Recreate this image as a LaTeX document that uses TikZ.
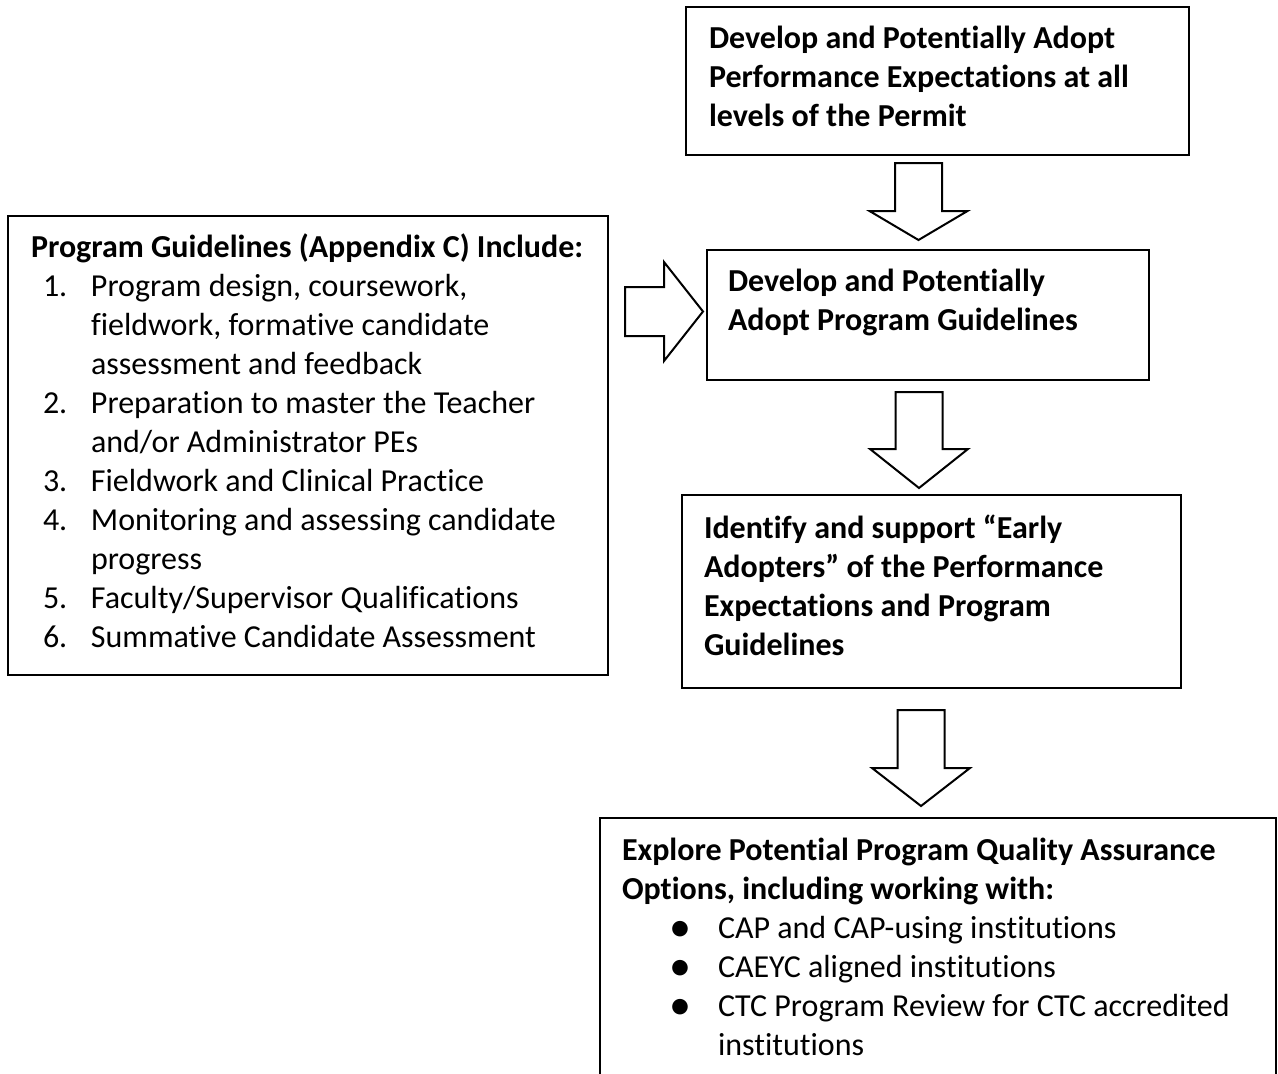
\documentclass[tikz,border=0pt]{standalone}
\usepackage{fontspec}
\setmainfont{Carlito}[Ligatures={NoCommon,NoContextual}, RawFeature={-liga;-clig;-dlig}]
\tikzset{
  boxnode/.style={draw=black, line width=2.6pt, anchor=north west, inner sep=0pt, outer sep=0pt},
  txt/.style={anchor=base west, inner sep=0pt, outer sep=0pt, text width=640pt, align=left,
              font=\fontsize{32}{39}\selectfont,
              execute at begin node={\spaceskip=0pt\relax\xspaceskip=0pt\relax}},
  blockarrow/.style={draw=black, line width=2pt, fill=white, line join=miter},
}
\newcommand{\bul}{\makebox[96pt][l]{\hspace*{47pt}\smash{\raisebox{-3pt}{\fontsize{44}{39}\selectfont •}}}}
\begin{document}
\begin{tikzpicture}[x=1pt,y=-1pt]
\useasboundingbox (0,0) rectangle (1278,1074);
\clip (0,0) rectangle (1278,1074);

% boxes
\node[boxnode, minimum width=503pt, minimum height=148pt] (b1) at (686,7) {};
\node[boxnode, minimum width=442pt, minimum height=130pt] (b2) at (707,250) {};
\node[boxnode, minimum width=499pt, minimum height=193pt] (b3) at (682,495) {};
\node[boxnode, minimum width=600pt, minimum height=459pt] (bl) at (8,216) {};
\node[boxnode, minimum width=676pt, minimum height=300pt] (b4) at (600,818) {};

% texts
\node[txt] (t1) at (709,48) {\bfseries Develop and Potentially Adopt\\Performance Expectations at all\\levels of the Permit};
\node[txt] (t2) at (728,291) {\bfseries Develop and Potentially\\Adopt Program Guidelines};
\node[txt] (t3) at (704,538) {\bfseries Identify and support “Early\\Adopters” of the Performance\\Expectations and Program\\Guidelines};
\node[txt] (tl) at (31,257) {\textbf{Program Guidelines (Appendix C) Include:}\\
\hspace*{12pt}\makebox[48pt][l]{1.}Program design, coursework,\\
\hspace*{60pt}fieldwork, formative candidate\\
\hspace*{60pt}assessment and feedback\\
\hspace*{12pt}\makebox[48pt][l]{2.}Preparation to master the Teacher\\
\hspace*{60pt}and/or Administrator PEs\\
\hspace*{12pt}\makebox[48pt][l]{3.}Fieldwork and Clinical Practice\\
\hspace*{12pt}\makebox[48pt][l]{4.}Monitoring and assessing candidate\\
\hspace*{60pt}progress\\
\hspace*{12pt}\makebox[48pt][l]{5.}Faculty/Supervisor Qualifications\\
\hspace*{12pt}\makebox[48pt][l]{6.}Summative Candidate Assessment};
\node[txt] (t4) at (622,860) {\textbf{Explore Potential Program Quality Assurance}\\
\textbf{Options, including working with:}\\
\bul CAP and CAP-using institutions\\
\bul CAEYC aligned institutions\\
\bul CTC Program Review for CTC accredited\\
\hspace*{96pt}institutions};

% block arrows
\coordinate (a1s) at (918.5,163); \coordinate (a1e) at (918.5,240);
\draw[blockarrow] (a1s) ++(-23.5,0) -- ++(0,48) -- ++(-25.5,0) -- (a1e) -- ++(49,-29) -- ++(-25.5,0) -- ++(0,-48) -- cycle;

\coordinate (a2s) at (919,392); \coordinate (a2e) at (919,488);
\draw[blockarrow] (a2s) ++(-23.5,0) -- ++(0,57) -- ++(-25.5,0) -- (a2e) -- ++(49,-39) -- ++(-25.5,0) -- ++(0,-57) -- cycle;

\coordinate (a3s) at (921,710); \coordinate (a3e) at (921,806);
\draw[blockarrow] (a3s) ++(-23.5,0) -- ++(0,58) -- ++(-25.5,0) -- (a3e) -- ++(49,-38) -- ++(-25.5,0) -- ++(0,-58) -- cycle;

\coordinate (ars) at (625,311.5); \coordinate (are) at (703,311.5);
\draw[blockarrow] (ars) ++(0,-24.5) -- ++(39,0) -- ++(0,-25) -- (are) -- ++(-39,49.5) -- ++(0,-25) -- ++(-39,0) -- cycle;
\end{tikzpicture}
\end{document}
